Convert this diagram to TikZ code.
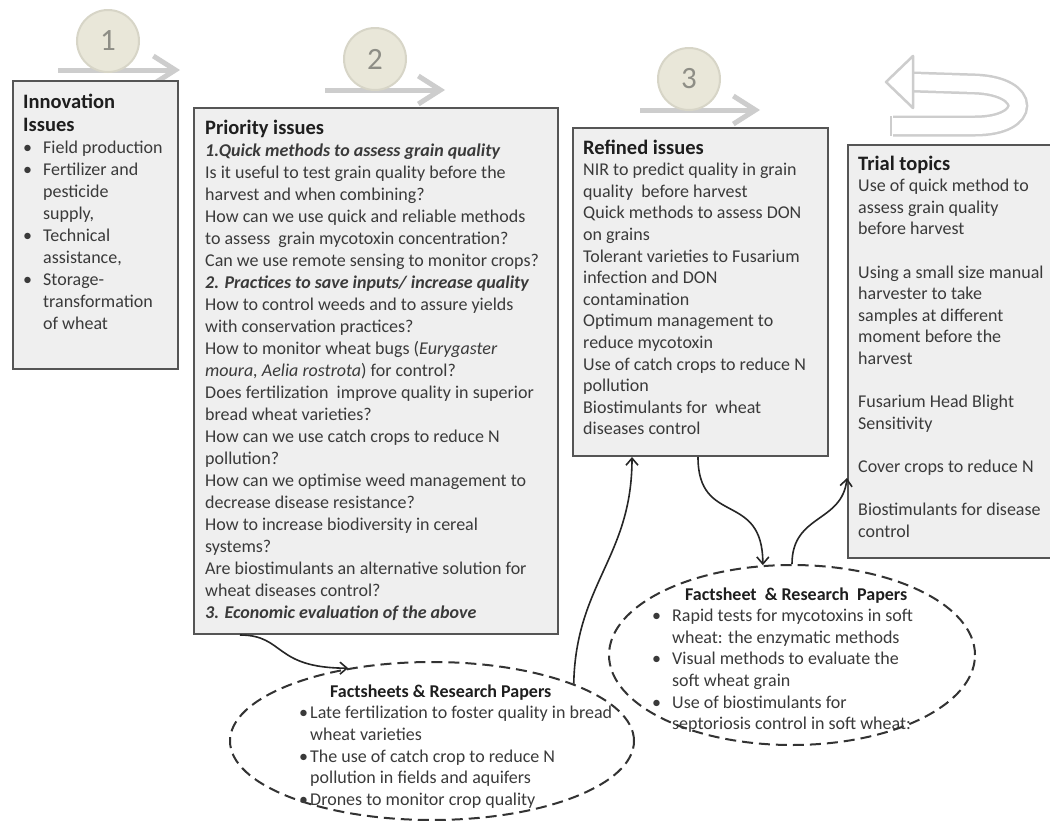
\documentclass[tikz,border=0pt]{standalone}
\usepackage{fontspec}
\setmainfont{Carlito}
\usetikzlibrary{shapes.geometric,arrows.meta}

\definecolor{boxfill}{HTML}{EFEFEF}
\definecolor{boxline}{HTML}{555555}
\definecolor{bodytxt}{HTML}{3A3A3A}
\definecolor{headtxt}{HTML}{1E1E1E}
\definecolor{flowgrey}{HTML}{CDCDCD}
\definecolor{stepfill}{HTML}{E9E7D9}
\definecolor{steprim}{HTML}{D7D5C7}
\definecolor{stepnum}{HTML}{8E8E86}

% text helpers
\newcommand\bodysize[1]{\fontsize{18}{#1}\selectfont}
\newcommand\headfont{\fontsize{20.5}{23}\selectfont\bfseries}
\newcommand\bfit[1]{\textbf{\textit{#1}}}
\newcommand\bul[1]{\makebox[#1][l]{•}}
\newcommand\textblock[2]{\vtop{\hsize=#1\parindent=0pt\raggedright #2\par}}

\begin{document}
\begin{tikzpicture}[x=1pt,y=-1pt,
  panel/.style={draw=boxline, fill=boxfill, line width=2pt, inner sep=0pt, anchor=north west},
  txt/.style={anchor=base west, inner sep=0pt, text=bodytxt},
  steparrow/.style={draw=flowgrey, line width=5pt, -{Straight Barb[length=22pt,width=28pt]}},
  stepdot/.style={circle, fill=stepfill, draw=steprim, line width=2pt, minimum size=62pt,
    inner sep=0pt, text=stepnum, font=\fontsize{31}{31}\selectfont},
  bubble/.style={ellipse, draw=black!80, line width=2pt, dash pattern=on 11pt off 6pt, inner sep=0pt},
  conn/.style={draw=black!85, line width=1.6pt, -{Straight Barb[length=7pt,width=12pt]}}]

\useasboundingbox (0,0) rectangle (1050,825);
\fill[white] (0,0) rectangle (1050,825);

% step arrows with numbered discs
\coordinate (s1a) at (58,70);   \coordinate (s1b) at (180,70);
\coordinate (s2a) at (325,90);  \coordinate (s2b) at (445,90);
\coordinate (s3a) at (640,110); \coordinate (s3b) at (760,110);
\draw[steparrow] (s1a) -- (s1b);
\draw[steparrow] (s2a) -- (s2b);
\draw[steparrow] (s3a) -- (s3b);
\node[stepdot] (d1) at (108,41) {1};
\node[stepdot] (d2) at (375,59) {2};
\node[stepdot] (d3) at (689,79) {3};

% loop arrow above the trial topics
\coordinate (lp0) at (893,126);
\coordinate (lp1) at (975,126);
\coordinate (lp2) at (975,84);
\coordinate (lp3) at (913,82);
\draw[draw=flowgrey, line width=2.5pt, double=white, double distance=16pt]
  (lp0) -- (lp1) .. controls (1032,126) and (1032,86) .. (lp2) -- (lp3);
\draw[draw=flowgrey, line width=2.5pt] (891,116) -- (891,136);
\coordinate (tipL) at (886,82);
\draw[draw=flowgrey, line width=2.5pt, fill=white, line join=round]
  (tipL) -- (913,56) -- (913,108) -- cycle;

% panels
\node[panel, minimum width=165pt, minimum height=288pt] (inno) at (12,80) {};
\node[panel, minimum width=364pt, minimum height=526pt] (prio) at (193,107) {};
\node[panel, minimum width=255pt, minimum height=328pt] (ref) at (572,127) {};
\node[panel, minimum width=215pt, minimum height=413pt] (trial) at (847,144) {};

\node[txt] (innoTxt) at (23,108) {\textblock{150pt}{%
  {\headfont\textcolor{headtxt}{Innovation\\Issues}\par}
  \bodysize{22}%
  \bul{20pt}Field production\\
  \bul{20pt}Fertilizer and\\
  \hspace*{20pt}pesticide\\
  \hspace*{20pt}supply,\\
  \bul{20pt}Technical\\
  \hspace*{20pt}assistance,\\
  \bul{20pt}Storage-\\
  \hspace*{20pt}transformation\\
  \hspace*{20pt}of wheat}};

\node[txt] (prioTxt) at (205,134) {\textblock{360pt}{%
  {\headfont\textcolor{headtxt}{Priority issues}\par}
  \bodysize{22}%
  \bfit{1.Quick methods to assess grain quality}\\
  Is it useful to test grain quality before the\\
  harvest and when combining?\\
  How can we use quick and reliable methods\\
  to assess\ \ grain mycotoxin concentration?\\
  Can we use remote sensing to monitor crops?\\
  \bfit{2. Practices to save inputs/ increase quality}\\
  How to control weeds and to assure yields\\
  with conservation practices?\\
  How to monitor wheat bugs (\textit{Eurygaster}\\
  \textit{moura, Aelia rostrota}) for control?\\
  Does fertilization\ \ improve quality in superior\\
  bread wheat varieties?\\
  How can we use catch crops to reduce N\\
  pollution?\\
  How can we optimise weed management to\\
  decrease disease resistance?\\
  How to increase biodiversity in cereal\\
  systems?\\
  Are biostimulants an alternative solution for\\
  wheat diseases control?\\
  \bfit{3. Economic evaluation of the above}}};

\node[txt] (refTxt) at (583,154) {\textblock{240pt}{%
  {\headfont\textcolor{headtxt}{Refined issues}\par}
  \bodysize{21.6}%
  NIR to predict quality in grain\\
  quality\ \ before harvest\\
  Quick methods to assess DON\\
  on grains\\
  Tolerant varieties to Fusarium\\
  infection and DON\\
  contamination\\
  Optimum management to\\
  reduce mycotoxin\\
  Use of catch crops to reduce N\\
  pollution\\
  Biostimulants for\ \ wheat\\
  diseases control}};

\node[txt] (trialTxt) at (858,170) {\textblock{200pt}{%
  {\headfont\textcolor{headtxt}{Trial topics}\par}
  \bodysize{21.6}%
  Use of quick method to\\
  assess grain quality\\
  before harvest\\[21.6pt]
  Using a small size manual\\
  harvester to take\\
  samples at different\\
  moment before the\\
  harvest\\[21.6pt]
  Fusarium Head Blight\\
  Sensitivity\\[21.6pt]
  Cover crops to reduce N\\[21.6pt]
  Biostimulants for disease\\
  control}};

% factsheet bubbles
\node[bubble, minimum width=404pt, minimum height=158pt] (fs1) at (432,741) {};
\node[bubble, minimum width=366pt, minimum height=180pt] (fs2) at (792,655) {};

\node[txt] (fs1Txt) at (299,697) {\textblock{340pt}{%
  \bodysize{22}%
  \hspace*{31pt}\textbf{\textcolor{headtxt}{Factsheets \& Research Papers}}\par
  \bodysize{21.7}%
  \bul{11pt}Late fertilization to foster quality in bread\\
  \hspace*{11pt}wheat varieties\\
  \bul{11pt}The use of catch crop to reduce N\\
  \hspace*{11pt}pollution in fields and aquifers\\
  \bul{11pt}Drones to monitor crop quality}};

\node[txt] (fs2Txt) at (652,600) {\textblock{300pt}{%
  \bodysize{22}%
  \hspace*{33pt}\textbf{\textcolor{headtxt}{Factsheet\ \ \& Research\ \ Papers}}\par
  \bodysize{21.6}%
  \bul{20pt}Rapid tests for mycotoxins in soft\\
  \hspace*{20pt}wheat: the enzymatic methods\\
  \bul{20pt}Visual methods to evaluate the\\
  \hspace*{20pt}soft wheat grain\\
  \bul{20pt}Use of biostimulants for\\
  \hspace*{20pt}septoriosis control in soft wheat:}};

% connectors
\draw[conn] ([xshift=47pt]prio.south west) .. controls +(45,0) and +(-75,0) .. (fs1.139);
\draw[conn] (fs1.22) .. controls +(2,-100) and +(0,100) .. ([xshift=60pt]ref.south west);
\draw[conn] ([xshift=126pt]ref.south west) .. controls +(0,70) and +(0,-75) .. (fs2.108);
\draw[conn] (fs2.90) .. controls +(0,-50) and +(-5,45) .. ([yshift=-334pt]trial.north west);

\end{tikzpicture}
\end{document}
